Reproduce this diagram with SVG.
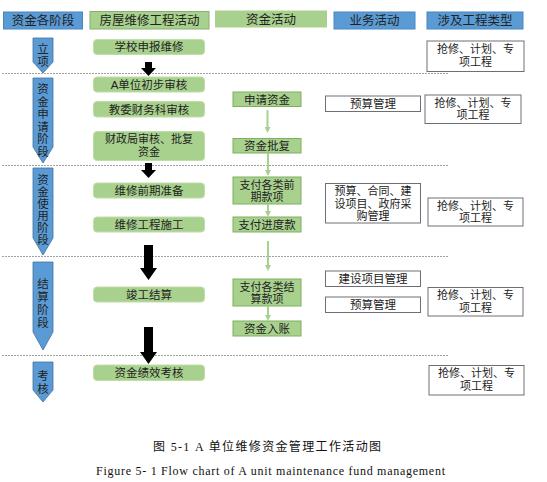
<svg xmlns="http://www.w3.org/2000/svg" width="547" height="482" viewBox="0 0 547 482">
<style>
text{font-family:"Liberation Sans","Noto Sans CJK SC",sans-serif;fill:#222;}
.hb{fill:#5B9BD5;stroke:#4A86BE;stroke-width:1;}
.hg{fill:#A9D18E;stroke:#8AAE72;stroke-width:1;}
.hg2{fill:#A9D18E;stroke:none;}
.ht{font-size:12.5px;text-anchor:middle;}
.stage{fill:#5B9BD5;stroke:#41719C;stroke-width:0.8;}
.st{font-size:11.5px;text-anchor:middle;}
.rb{fill:#A9D18E;stroke:#BFDDA8;stroke-width:1;}
.fb{fill:#A9D18E;stroke:#7FB05E;stroke-width:1;}
.wb{fill:#fff;stroke:#6E6E78;stroke-width:1;}
.t{font-size:11.5px;text-anchor:middle;}
.t2{font-size:11px;text-anchor:middle;}
.dash{stroke:#8A8A8A;stroke-width:0.8;stroke-dasharray:2 1;fill:none;}
.ga{stroke:#A9D18E;stroke-width:2;fill:none;marker-end:url(#gh);}
.cap{font-family:"Liberation Serif","Noto Sans CJK SC",serif;font-size:12px;text-anchor:middle;fill:#111;}
</style>
<defs>
<marker id="gh" markerWidth="6" markerHeight="6" refX="3" refY="3" orient="auto" markerUnits="userSpaceOnUse">
<path d="M0,0 L6,3 L0,6 Z" fill="#A9D18E"/>
</marker>
</defs>

<g id="headers">
<rect class="hb" x="3.5" y="12" width="79" height="17"/>
<text class="ht" x="43" y="25">资金各阶段</text>
<rect class="hg" x="90" y="11.5" width="119" height="17.5"/>
<text class="ht" x="149.5" y="25">房屋维修工程活动</text>
<rect class="hg2" x="215" y="10.5" width="112" height="17"/>
<text class="ht" x="271" y="23.5">资金活动</text>
<rect class="hb" x="334" y="12" width="81" height="17"/>
<text class="ht" x="374.5" y="25">业务活动</text>
<rect class="hb" x="427" y="12" width="96" height="17"/>
<text class="ht" x="475" y="25">涉及工程类型</text>
</g>

<g id="dividers">
<line class="dash" x1="2" y1="73.5" x2="449" y2="73.5"/>
<line class="dash" x1="2" y1="165.5" x2="449" y2="165.5"/>
<line class="dash" x1="2" y1="256.5" x2="449" y2="256.5"/>
<line class="dash" x1="2" y1="355.5" x2="449" y2="355.5"/>
</g>

<g id="stage-lixiang">
<path class="stage" d="M33,38 H53 V62 L43,73 L33,62 Z"/>
<text class="st" x="43" y="53">立</text>
<text class="st" x="43" y="66">项</text>
</g>
<g id="stage-shenqing">
<path class="stage" d="M33,78 H53 V147 L43,163 L33,147 Z"/>
<text class="st" x="43" y="93">资</text>
<text class="st" x="43" y="105.5">金</text>
<text class="st" x="43" y="118">申</text>
<text class="st" x="43" y="130.5">请</text>
<text class="st" x="43" y="143">阶</text>
<text class="st" x="43" y="155.5">段</text>
</g>
<g id="stage-shiyong">
<path class="stage" d="M33,168 H53 V238 L43,255 L33,238 Z"/>
<text class="st" x="43" y="184">资</text>
<text class="st" x="43" y="196">金</text>
<text class="st" x="43" y="208">使</text>
<text class="st" x="43" y="220">用</text>
<text class="st" x="43" y="232">阶</text>
<text class="st" x="43" y="244">段</text>
</g>
<g id="stage-jiesuan">
<path class="stage" d="M33,262 H53 V332 L43,350 L33,332 Z"/>
<text class="st" x="43" y="288">结</text>
<text class="st" x="43" y="301">算</text>
<text class="st" x="43" y="314">阶</text>
<text class="st" x="43" y="327">段</text>
</g>
<g id="stage-kaohe">
<path class="stage" d="M33,362 H53 V390 L43,402 L33,390 Z"/>
<text class="st" x="43" y="380">考</text>
<text class="st" x="43" y="393">核</text>
</g>

<g id="n-xuexiao"><rect class="rb" x="93.5" y="39.5" width="111" height="15" rx="3.5"/><text class="t" x="149" y="51">学校申报维修</text></g>
<g id="n-adanwei"><rect class="rb" x="93.5" y="77" width="111" height="15" rx="3.5"/><text class="t" x="149" y="88.5">A单位初步审核</text></g>
<g id="n-jiaowei"><rect class="rb" x="93.5" y="101.5" width="111" height="15.5" rx="3.5"/><text class="t" x="149" y="113.5">教委财务科审核</text></g>
<g id="n-caizheng"><rect class="rb" x="93.5" y="131.5" width="111" height="29" rx="3.5"/><text class="t2" x="149" y="143">财政局审核、批复</text><text class="t2" x="149" y="156">资金</text></g>
<g id="n-qianqi"><rect class="rb" x="93.5" y="183" width="111" height="15" rx="3.5"/><text class="t" x="149" y="194.5">维修前期准备</text></g>
<g id="n-shigong"><rect class="rb" x="93.5" y="217" width="111" height="15" rx="3.5"/><text class="t" x="149" y="228.5">维修工程施工</text></g>
<g id="n-jungong"><rect class="rb" x="93.5" y="287" width="111" height="15" rx="3.5"/><text class="t" x="149" y="298.5">竣工结算</text></g>
<g id="n-jixiao"><rect class="rb" x="93.5" y="365" width="111" height="15.5" rx="3.5"/><text class="t" x="149" y="377">资金绩效考核</text></g>

<g id="f-shenqing"><rect class="fb" x="233" y="92" width="68" height="14.5"/><text class="t" x="267" y="103.5">申请资金</text></g>
<g id="f-pifu"><rect class="fb" x="233" y="138.5" width="68" height="14.5"/><text class="t" x="267" y="150">资金批复</text></g>
<g id="f-qianqi"><rect class="fb" x="233" y="177" width="68" height="27"/><text class="t2" x="267" y="188.5">支付各类前</text><text class="t2" x="267" y="201">期款项</text></g>
<g id="f-jindu"><rect class="fb" x="233" y="217" width="68" height="15"/><text class="t" x="267" y="228.5">支付进度款</text></g>
<g id="f-jiesuan"><rect class="fb" x="233" y="279" width="68" height="27"/><text class="t2" x="267" y="290.5">支付各类结</text><text class="t2" x="267" y="303">算款项</text></g>
<g id="f-ruzhang"><rect class="fb" x="233" y="321" width="68" height="15"/><text class="t" x="267" y="332.5">资金入账</text></g>

<g id="b-yusuan1"><rect class="wb" x="325.5" y="96" width="95" height="15.5"/><text class="t" x="373" y="107.5">预算管理</text></g>
<g id="b-duoxiang"><rect class="wb" x="325.5" y="183.5" width="95" height="39.5"/><text class="t2" x="373" y="195">预算、合同、建</text><text class="t2" x="373" y="207.5">设项目、政府采</text><text class="t2" x="373" y="220">购管理</text></g>
<g id="b-jianshe"><rect class="wb" x="325.5" y="271" width="95" height="15.5"/><text class="t" x="373" y="282.5">建设项目管理</text></g>
<g id="b-yusuan2"><rect class="wb" x="325.5" y="297" width="95" height="15.5"/><text class="t" x="373" y="308.5">预算管理</text></g>

<g id="type1"><rect class="wb" x="427" y="41" width="97" height="30.5"/><text class="t2" x="475.5" y="53">抢修、计划、专</text><text class="t2" x="475.5" y="66">项工程</text></g>
<g id="type2"><rect class="wb" x="425" y="95" width="96" height="28.5"/><text class="t2" x="473" y="106.5">抢修、计划、专</text><text class="t2" x="473" y="119">项工程</text></g>
<g id="type3"><rect class="wb" x="428" y="198" width="95" height="28"/><text class="t2" x="475.5" y="209.5">抢修、计划、专</text><text class="t2" x="475.5" y="222">项工程</text></g>
<g id="type4"><rect class="wb" x="428" y="287.5" width="95" height="28.5"/><text class="t2" x="475.5" y="299">抢修、计划、专</text><text class="t2" x="475.5" y="311.5">项工程</text></g>
<g id="type5"><rect class="wb" x="429" y="365.5" width="95" height="29.5"/><text class="t2" x="476.5" y="377">抢修、计划、专</text><text class="t2" x="476.5" y="390">项工程</text></g>

<g id="connectors">
<path d="M145,62 H152 V68 H156 L148.5,76 L141,68 H145 Z" fill="#000"/>
<path d="M145,163 H152 V170 H156 L148.5,178 L141,170 H145 Z" fill="#000"/>
<path d="M144,245 H153 V268 H157 L148.5,280 L140,268 H144 Z" fill="#000"/>
<path d="M144,327 H153 V352 H157 L148.5,364 L140,352 H144 Z" fill="#000"/>
<line class="ga" x1="267.5" y1="110" x2="267.5" y2="130"/>
<line class="ga" x1="268" y1="153" x2="268" y2="173"/>
<line class="ga" x1="268" y1="204" x2="268" y2="214"/>
<line class="ga" x1="268" y1="241" x2="268" y2="268"/>
<line class="ga" x1="268" y1="306" x2="268" y2="318"/>
</g>

<g id="caption">
<text class="cap" x="267" y="451" textLength="228" lengthAdjust="spacing">图 5-1 A 单位维修资金管理工作活动图</text>
<text class="cap" x="270.5" y="475" textLength="349" lengthAdjust="spacing">Figure 5- 1 Flow chart of A unit maintenance fund management</text>
</g>
</svg>
